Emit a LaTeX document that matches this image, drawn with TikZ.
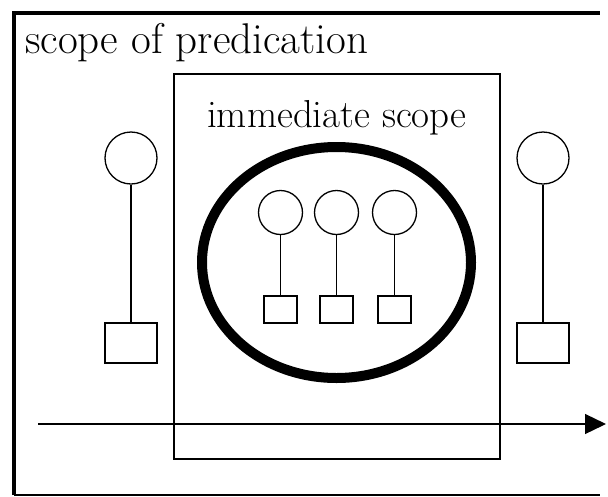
\documentclass[tikz,border=0pt]{standalone}
\usetikzlibrary{arrows.meta}
\begin{document}
\begin{tikzpicture}[x=1pt,y=-1pt,
  thinline/.style={line width=1.3pt},
  bigdot/.style={circle,draw,thinline,minimum size=52pt,inner sep=0pt},
  bigbox/.style={rectangle,draw,thinline,minimum width=52pt,minimum height=40pt,inner sep=0pt},
  smalldot/.style={circle,draw,thinline,minimum size=44pt,inner sep=0pt},
  smallbox/.style={rectangle,draw,thinline,minimum width=33pt,minimum height=27pt,inner sep=0pt},
  label/.style={anchor=base west,inner sep=0pt}]
  \useasboundingbox (0,0) rectangle (608,496);
  % outer frame: heavy left and top edges, light bottom edge (open on the right)
  \draw[line width=4pt] (14,495) -- (14,13) -- (600,13);
  \draw[thinline] (14,495) -- (600,495);
  % inner frame
  \node[draw,thinline,minimum width=326pt,minimum height=385pt,inner sep=0pt] (inner) at (337,266.5) {};
  % labels
  \node[label,font=\fontsize{43}{46}\selectfont] (pred) at (25,53) {scope of predication};
  \node[label,font=\fontsize{39}{42}\selectfont] (imm) at (207,127) {immediate scope};
  % heavy ellipse
  \draw[line width=10pt] (336.5,262.5) ellipse [x radius=134.5pt, y radius=115.5pt];
  % outside entities
  \node[bigdot] (lc) at (131,158) {};
  \node[bigbox] (ls) at (131,343) {};
  \draw[thinline] (lc) -- (ls);
  \node[bigdot] (rc) at (543,158) {};
  \node[bigbox] (rs) at (543,343) {};
  \draw[thinline] (rc) -- (rs);
  % inside entities
  \foreach \n/\xx in {a/280.5,b/336.5,c/394.5}{
    \node[smalldot] (c\n) at (\xx,212.5) {};
    \node[smallbox] (s\n) at (\xx,309.5) {};
    \draw[thinline] (c\n) -- (s\n);
  }
  % time arrow
  \coordinate (t0) at (38,424);
  \coordinate (t1) at (606,424);
  \draw[thinline,-{Triangle[length=21pt,width=20pt]}] (t0) -- (t1);
\end{tikzpicture}
\end{document}
